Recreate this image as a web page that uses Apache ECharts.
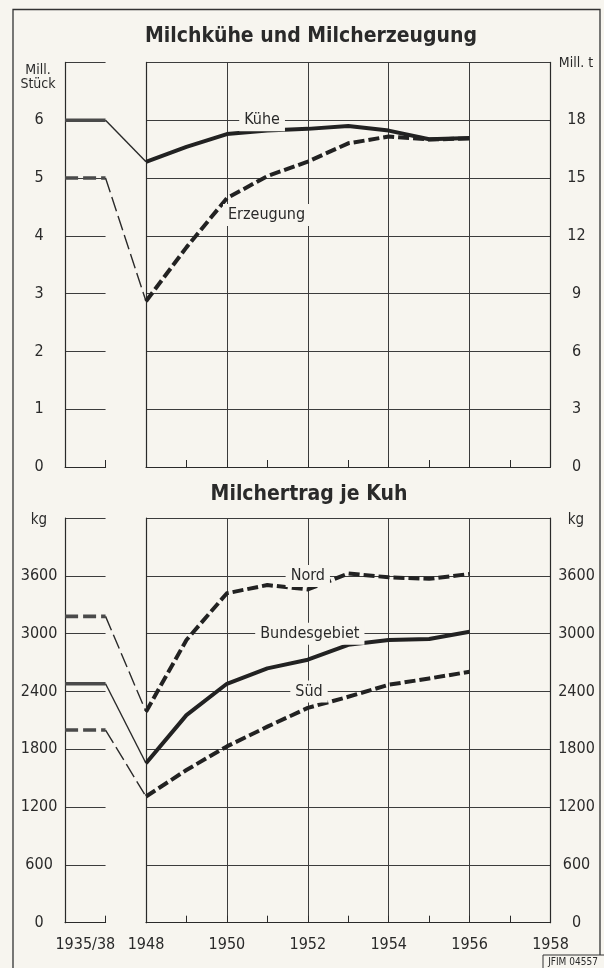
<!DOCTYPE html>
<html>
<head>
<meta charset="utf-8">
<script src="https://cdn.jsdelivr.net/npm/echarts@6/dist/echarts.min.js"></script>
<style>
  html, body { margin: 0; padding: 0; background: #f7f5ef; }
  #chart { width: 604px; height: 968px; }
</style>
</head>
<body>
<div id="chart"></div>
<script>
// ---------- data ----------
const periods = ['1935/38', '1948', '1949', '1950', '1951', '1952', '1953', '1954', '1955', '1956'];
const xTickLabels = ['1948', '1949', '1950', '1951', '1952', '1953', '1954', '1955', '1956', '1957', '1958'];
const prewarLabel = ['1935/38'];

// Milchkühe (Mill. Stück, left axis)
const kuehe = [6.0, 5.28, 5.54, 5.76, 5.82, 5.85, 5.90, 5.82, 5.67, 5.69];
// Milcherzeugung (Mill. t, right axis)
const erzeugung = [15.0, 8.6, 11.4, 13.95, 15.1, 15.85, 16.8, 17.15, 17.0, 17.05];

// Milchertrag je Kuh (kg)
const nord = [3180, 2190, 2935, 3420, 3505, 3460, 3625, 3585, 3570, 3620];
const bundesgebiet = [2480, 1655, 2155, 2480, 2640, 2730, 2885, 2935, 2945, 3020];
const sued = [2000, 1310, 1585, 1830, 2035, 2230, 2345, 2470, 2535, 2605];

// axis ranges
const topLeftAxis = { min: 0, max: 7, interval: 1 };
const topRightAxis = { min: 0, max: 21, interval: 3 };
const kgAxis = { min: 0, max: 4200, interval: 600 };

// ---------- layout ----------
const FONT = "'DejaVu Sans Condensed', 'Liberation Sans Narrow', 'DejaVu Sans', sans-serif";
const INK = '#2a2a2a';
const GRIDC = '#3c3c3c';
const PAPER = '#f7f5ef';
const YR = 40.45;            // px per year
const X48 = 146;             // x of 1948
const XA = X48 - 2 * YR;     // x of left block (1946)
const H = 404.6;
const TOP1 = 62.4, TOP2 = 518.1;
const plainNum = v => String(v);

function grids(top) {
  return [
    { left: XA, top: top, width: YR, height: H },
    { left: X48, top: top, width: 10 * YR, height: H },
    { left: XA, top: top, width: 12 * YR, height: H }
  ];
}

const lineStyleGrid = { color: GRIDC, width: 1 };

function xAxesFor(gBase, showLabels) {
  return [
    {
      type: 'category', gridIndex: gBase, data: prewarLabel, boundaryGap: true,
      axisLine: { show: true, lineStyle: { color: INK, width: 1.2 } },
      axisTick: { show: true, inside: true, length: 7, lineStyle: { color: INK } },
      axisLabel: { show: showLabels, color: INK, fontFamily: FONT, fontSize: 16, margin: 14 },
      splitLine: { show: false }
    },
    {
      type: 'category', gridIndex: gBase + 1, data: xTickLabels, boundaryGap: false,
      axisLine: { show: true, lineStyle: { color: INK, width: 1.2 } },
      axisTick: { show: true, inside: true, length: 7, interval: 0, lineStyle: { color: INK } },
      axisLabel: { show: showLabels, interval: 1, color: INK, fontFamily: FONT, fontSize: 16, margin: 14 },
      splitLine: { show: true, interval: 1, lineStyle: lineStyleGrid }
    },
    { type: 'value', gridIndex: gBase + 2, min: 1946, max: 1958, show: false, splitLine: { show: false } }
  ];
}

function yAxisVisibleLeft(gIdx, rng) {
  return {
    type: 'value', gridIndex: gIdx, position: 'left', min: rng.min, max: rng.max, interval: rng.interval,
    axisLine: { show: true, lineStyle: { color: INK, width: 1.2 } },
    axisTick: { show: false },
    axisLabel: { show: true, showMaxLabel: false, formatter: plainNum, color: INK, fontFamily: FONT, fontSize: 16, margin: 26, align: 'center' },
    splitLine: { show: true, lineStyle: lineStyleGrid }
  };
}
function yAxisPlainLeft(gIdx, rng) {
  return {
    type: 'value', gridIndex: gIdx, position: 'left', min: rng.min, max: rng.max, interval: rng.interval,
    axisLine: { show: true, lineStyle: { color: INK, width: 1.2 } },
    axisTick: { show: false }, axisLabel: { show: false },
    splitLine: { show: true, lineStyle: lineStyleGrid }
  };
}
function yAxisVisibleRight(gIdx, rng) {
  return {
    type: 'value', gridIndex: gIdx, position: 'right', min: rng.min, max: rng.max, interval: rng.interval,
    axisLine: { show: true, lineStyle: { color: INK, width: 1.2 } },
    axisTick: { show: false },
    axisLabel: { show: true, showMaxLabel: false, formatter: plainNum, color: INK, fontFamily: FONT, fontSize: 16, margin: 26, align: 'center' },
    splitLine: { show: false }
  };
}
function yHidden(gIdx, rng, pos) {
  return { type: 'value', gridIndex: gIdx, position: pos, min: rng.min, max: rng.max, show: false, splitLine: { show: false } };
}

// piecewise series: prewar block (1946-1947), thin connector (1947-1948), postwar (1948+)
function pieces(values) {
  const pre = [[1946, values[0]], [1947, values[0]]];
  const link = [[1947, values[0]], [1948, values[1]]];
  const post = periods.slice(1).map((p, i) => [Number(p), values[i + 1]]);
  return { pre, link, post };
}
function makeSeries(name, values, xIdx, yIdx, dashed) {
  const p = pieces(values);
  const base = { type: 'line', xAxisIndex: xIdx, yAxisIndex: yIdx, symbol: 'none', silent: true, animation: false, z: 5 };
  return [
    Object.assign({}, base, { name: name + '_pre', data: p.pre,
      lineStyle: { color: '#4a4a4a', width: 3.6, type: dashed ? [13, 5] : 'solid', cap: 'butt' } }),
    Object.assign({}, base, { name: name + '_link', data: p.link,
      lineStyle: { color: INK, width: 1.4, type: dashed ? [15, 5] : 'solid' } }),
    Object.assign({}, base, { name: name, data: p.post,
      lineStyle: { color: '#222', width: 4, type: dashed ? [11, 4] : 'solid', cap: 'butt', join: 'round' } })
  ];
}

const option = {
  backgroundColor: PAPER,
  animation: false,
  grid: grids(TOP1).concat(grids(TOP2)),
  xAxis: xAxesFor(0, false).concat(xAxesFor(3, true)),
  yAxis: [
    yAxisVisibleLeft(0, topLeftAxis),      // 0
    yAxisPlainLeft(1, topLeftAxis),        // 1
    yAxisVisibleRight(1, topRightAxis),    // 2
    yHidden(2, topLeftAxis, 'left'),       // 3
    yHidden(2, topRightAxis, 'right'),     // 4
    yAxisVisibleLeft(3, kgAxis),           // 5
    yAxisPlainLeft(4, kgAxis),             // 6
    yAxisVisibleRight(4, kgAxis),          // 7
    yHidden(5, kgAxis, 'left')             // 8
  ],
  series: [].concat(
    makeSeries('Kühe', kuehe, 2, 3, false),
    makeSeries('Erzeugung', erzeugung, 2, 4, true),
    makeSeries('Nord', nord, 5, 8, true),
    makeSeries('Bundesgebiet', bundesgebiet, 5, 8, false),
    makeSeries('Süd', sued, 5, 8, true)
  )
};

const chart = echarts.init(document.getElementById('chart'), null, { renderer: 'canvas' });
chart.setOption(option);

// ---------- texts ----------
function px(finder, pt) { return chart.convertToPixel(finder, pt); }
const topF = { xAxisIndex: 2, yAxisIndex: 3 };
const botF = { xAxisIndex: 5, yAxisIndex: 8 };

function lineLabel(text, pos, align) {
  return {
    type: 'text', x: pos[0], y: pos[1], z: 100,
    style: {
      text: text, fill: INK, font: '16px ' + FONT,
      align: align || 'center', verticalAlign: 'middle',
      backgroundColor: PAPER, padding: [3, 5]
    }
  };
}
function plainText(text, x, y, size, weight, align) {
  return {
    type: 'text', x: x, y: y, z: 100,
    style: { text: text, fill: INK, font: (weight || 'normal') + ' ' + size + 'px ' + FONT,
      align: align || 'center', verticalAlign: 'middle', lineHeight: size }
  };
}

const graphics = [
  { type: 'rect', z: 90, shape: { x: 13, y: 9.5, width: 587, height: 970 },
    style: { fill: null, stroke: '#333', lineWidth: 1.3 } },
  plainText('Milchkühe und Milcherzeugung', 311, 37, 21, 'bold'),
  plainText('Milchertrag je Kuh', 309, 495, 21, 'bold'),
  plainText('Mill.', 38, 70, 14),
  plainText('Stück', 38, 84, 14),
  plainText('Mill. t', 576, 63, 14),
  plainText('kg', 39, 520, 15),
  plainText('kg', 576, 520, 15),
  lineLabel('Kühe', px(topF, [1950.87, 6])),
  lineLabel('Erzeugung', px(topF, [1950.98, 4.36])),
  lineLabel('Nord', px(botF, [1952.0, 3600])),
  lineLabel('Bundesgebiet', px(botF, [1952.05, 3000])),
  lineLabel('Süd', px(botF, [1952.03, 2400])),
  { type: 'rect', z: 90, shape: { x: 543, y: 955, width: 62, height: 16 },
    style: { fill: PAPER, stroke: '#333', lineWidth: 1 } },
  plainText('JFIM 04557', 573, 962.5, 10)
];
chart.setOption({ graphic: graphics });
</script>
</body>
</html>
